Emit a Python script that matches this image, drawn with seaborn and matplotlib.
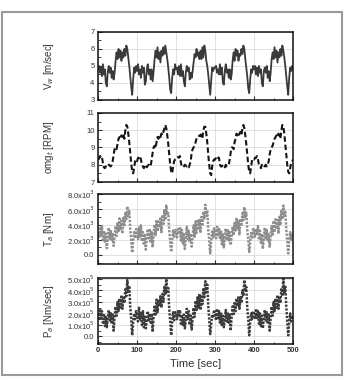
"""
Four stacked time series: wind speed, rotor speed, torque and power.
"""

import numpy as np
import matplotlib
matplotlib.use("Agg")
import matplotlib.pyplot as plt
import seaborn as sns
from matplotlib.patches import Rectangle
from matplotlib.ticker import AutoMinorLocator, FuncFormatter, MultipleLocator

# time axis [sec], one sample every 2.5 s
time = np.arange(0, 500.1, 2.5)

# wind speed [m/sec]
wind_speed = [
    4.8, 5.0, 4.6, 4.9, 4.4, 5.1, 4.5, 4.8, 4.0, 3.8, 4.7, 5.0, 4.6, 4.9, 4.3, 4.7, 4.2, 4.6, 5.3, 5.8,
    5.4, 6.0, 5.5, 5.9, 5.3, 5.8, 5.5, 6.0, 5.6, 6.2, 6.0, 5.5, 5.0, 4.4, 3.8, 3.3, 4.2, 4.9, 4.6, 5.0,
    4.7, 5.1, 4.5, 4.8, 4.3, 5.0, 4.6, 4.9, 3.9, 4.1, 4.8, 5.1, 4.5, 4.8, 4.2, 4.8, 4.1, 4.7, 5.4, 5.9,
    5.5, 6.1, 5.4, 5.8, 5.2, 5.9, 5.6, 6.1, 5.7, 6.2, 5.8, 5.4, 4.9, 4.3, 3.6, 3.4, 4.3, 4.8, 4.5, 5.1,
    4.8, 4.9, 4.5, 5.0, 4.4, 5.1, 4.4, 4.7, 4.1, 3.8, 4.6, 5.0, 4.7, 4.9, 4.2, 4.6, 4.3, 4.7, 5.2, 5.7,
    5.5, 6.0, 5.6, 5.8, 5.4, 5.9, 5.4, 6.1, 5.5, 6.2, 5.9, 5.3, 5.0, 4.5, 3.9, 3.3, 4.1, 4.9, 4.7, 4.9,
    4.9, 5.0, 4.6, 4.8, 4.5, 5.1, 4.5, 4.9, 4.0, 3.9, 4.7, 5.1, 4.6, 4.8, 4.3, 4.8, 4.2, 4.5, 5.3, 5.8,
    5.3, 6.0, 5.6, 5.9, 5.3, 5.7, 5.6, 6.0, 5.7, 6.2, 6.0, 5.4, 4.9, 4.4, 3.7, 3.4, 4.2, 4.8, 4.6, 5.0,
    4.8, 5.0, 4.5, 4.9, 4.4, 5.0, 4.6, 4.8, 4.0, 3.8, 4.7, 4.9, 4.6, 5.0, 4.3, 4.7, 4.1, 4.6, 5.4, 5.8,
    5.4, 6.1, 5.5, 5.9, 5.2, 5.8, 5.5, 6.0, 5.6, 6.2, 5.9, 5.5, 5.0, 4.4, 3.8, 3.3, 4.3, 4.9, 4.7, 5.0,
    4.8,
]

# rotor speed [RPM]
rotor_speed = [
    8.3, 8.35, 8.5, 8.4, 8.45, 8.1, 7.85, 7.8, 7.9, 7.95, 7.9, 8.0, 7.95, 7.9, 8.0, 8.2, 8.6, 8.9, 9.0, 8.9,
    9.2, 9.5, 9.6, 9.5, 9.7, 9.6, 9.8, 9.5, 10.0, 10.3, 10.2, 9.8, 9.3, 8.7, 8.1, 7.6, 7.5, 7.8, 8.2, 8.3,
    8.2, 8.4, 8.4, 8.5, 8.3, 8.0, 7.9, 7.8, 7.95, 8.0, 7.85, 7.95, 8.0, 7.9, 7.95, 8.3, 8.7, 9.0, 9.1, 8.95,
    9.3, 9.6, 9.5, 9.7, 9.6, 9.8, 9.7, 9.9, 10.1, 10.3, 10.1, 9.7, 9.2, 8.6, 8.0, 7.6, 7.5, 7.9, 8.2, 8.3,
    8.3, 8.4, 8.45, 8.4, 8.5, 8.1, 7.9, 7.85, 7.9, 8.0, 7.95, 7.9, 7.95, 7.85, 8.0, 8.2, 8.7, 8.9, 9.0, 9.1,
    9.3, 9.5, 9.6, 9.6, 9.7, 9.65, 9.8, 9.6, 10.0, 10.2, 10.2, 9.8, 9.3, 8.6, 8.0, 7.5, 7.4, 7.9, 8.2, 8.3,
    8.3, 8.4, 8.5, 8.4, 8.4, 8.0, 7.9, 7.9, 8.0, 7.95, 7.85, 8.0, 7.9, 7.95, 8.0, 8.3, 8.7, 9.0, 9.0, 8.9,
    9.3, 9.5, 9.8, 9.7, 9.6, 9.8, 9.9, 9.7, 10.1, 10.3, 10.1, 9.7, 9.2, 8.6, 8.0, 7.6, 7.5, 7.9, 8.3, 8.35,
    8.3, 8.4, 8.4, 8.5, 8.3, 8.0, 7.9, 7.8, 8.0, 7.9, 7.95, 7.9, 8.0, 7.9, 8.0, 8.2, 8.6, 8.9, 9.0, 9.1,
    9.3, 9.5, 9.6, 9.7, 9.6, 9.8, 9.7, 9.5, 10.0, 10.3, 10.2, 9.8, 9.2, 8.6, 8.0, 7.6, 7.5, 7.8, 8.1, 8.2,
    8.3,
]

# aerodynamic torque [x10^3 Nm]
torque_k = [
    3.0, 2.2, 3.5, 2.6, 3.8, 2.0, 3.2, 1.6, 2.8, 0.9, 2.4, 3.6, 2.0, 3.3, 1.8, 2.9, 1.2, 2.6, 3.8, 2.5,
    4.3, 3.0, 4.8, 3.4, 4.5, 2.8, 4.9, 3.9, 5.6, 4.7, 6.4, 5.2, 5.8, 3.5, 2.0, 0.3, 1.8, 3.0, 2.2, 3.4,
    2.8, 2.1, 3.6, 2.4, 3.9, 1.8, 3.0, 1.3, 2.6, 0.7, 2.5, 3.4, 2.2, 3.5, 1.6, 3.0, 1.0, 2.7, 4.0, 2.6,
    4.6, 3.1, 4.4, 3.6, 4.8, 3.0, 5.1, 4.1, 5.9, 4.6, 6.5, 5.3, 5.5, 3.2, 1.7, 0.4, 2.0, 3.2, 2.4, 3.3,
    3.1, 2.3, 3.4, 2.7, 3.7, 1.9, 3.3, 1.5, 2.9, 0.8, 2.3, 3.7, 2.1, 3.2, 1.7, 2.8, 1.1, 2.5, 3.9, 2.4,
    4.4, 2.9, 4.7, 3.5, 4.6, 2.9, 5.0, 4.0, 5.7, 4.8, 6.6, 5.1, 5.9, 3.4, 1.9, 0.2, 1.9, 3.1, 2.3, 3.5,
    2.9, 2.2, 3.7, 2.5, 3.6, 2.1, 3.1, 1.4, 2.7, 1.0, 2.6, 3.5, 1.9, 3.4, 1.9, 3.0, 1.3, 2.4, 3.7, 2.6,
    4.2, 3.2, 4.9, 3.3, 4.4, 2.7, 4.8, 3.8, 5.5, 4.6, 6.3, 5.0, 5.6, 3.3, 2.1, 0.4, 1.7, 2.9, 2.1, 3.4,
    3.0, 2.4, 3.5, 2.6, 3.8, 2.0, 3.2, 1.6, 2.8, 0.8, 2.4, 3.6, 2.0, 3.3, 1.8, 2.9, 1.1, 2.6, 3.8, 2.5,
    4.5, 3.0, 4.7, 3.4, 4.6, 2.8, 5.0, 3.9, 5.8, 4.7, 6.5, 5.2, 5.7, 3.4, 1.9, 0.2, 1.8, 3.0, 2.0, 2.6,
    2.2,
]

# aerodynamic power [x10^5 Nm/sec]
power_e5 = [
    2.0, 1.4, 2.4, 1.6, 2.2, 1.2, 2.0, 0.9, 1.8, 0.8, 1.5, 2.3, 1.4, 2.1, 1.1, 1.9, 0.5, 1.7, 2.6, 1.8,
    3.0, 2.2, 3.3, 2.5, 3.6, 2.4, 3.5, 2.9, 4.1, 3.5, 4.9, 3.8, 4.4, 2.6, 1.5, 0.1, 1.2, 2.0, 1.5, 2.2,
    1.9, 1.3, 2.5, 1.5, 2.1, 1.0, 2.2, 0.8, 1.7, 0.7, 1.6, 2.2, 1.3, 2.0, 1.2, 2.0, 0.4, 1.8, 2.7, 1.9,
    3.2, 2.1, 3.2, 2.6, 3.5, 2.5, 3.7, 3.0, 4.3, 3.6, 5.0, 3.9, 4.2, 2.4, 1.3, 0.1, 1.3, 2.1, 1.4, 2.1,
    2.1, 1.5, 2.3, 1.7, 2.3, 1.1, 1.9, 1.0, 1.9, 0.7, 1.4, 2.4, 1.5, 2.2, 1.0, 1.8, 0.6, 1.6, 2.5, 1.7,
    3.1, 2.3, 3.4, 2.4, 3.7, 2.3, 3.6, 2.8, 4.2, 3.4, 4.8, 3.7, 4.5, 2.7, 1.4, 0.2, 1.1, 1.9, 1.6, 2.3,
    2.0, 1.4, 2.4, 1.6, 2.2, 1.2, 2.1, 0.9, 1.8, 0.8, 1.6, 2.3, 1.3, 2.1, 1.2, 1.9, 0.5, 1.7, 2.6, 1.8,
    2.9, 2.2, 3.3, 2.6, 3.5, 2.4, 3.4, 2.9, 4.0, 3.5, 4.9, 3.9, 4.3, 2.5, 1.5, 0.1, 1.2, 2.0, 1.5, 2.2,
    1.9, 1.5, 2.4, 1.6, 2.2, 1.1, 2.0, 0.9, 1.8, 0.7, 1.5, 2.3, 1.4, 2.1, 1.1, 1.9, 0.5, 1.7, 2.6, 1.8,
    3.0, 2.2, 3.3, 2.5, 3.6, 2.4, 3.5, 2.9, 4.2, 3.5, 5.0, 3.8, 4.4, 2.6, 1.4, 0.1, 1.2, 2.0, 1.3, 1.8,
    1.6,
]

torque = np.array(torque_k) * 1e3
power = np.array(power_e5) * 1e5


def sci_fmt(exp):
    def fmt(v, _):
        if abs(v) < 1e-9:
            return "0.0"
        return f"{v / 10**exp:.1f}x10$^{exp}$"
    return FuncFormatter(fmt)


sns.set_style("ticks")
plt.rcParams["font.family"] = ["Liberation Sans", "DejaVu Sans"]

fig = plt.figure(figsize=(3.44, 3.80), dpi=100)

left, width = 0.285, 0.567
boxes = [
    (0.737, 0.179),
    (0.521, 0.182),
    (0.305, 0.184),
    (0.095, 0.174),
]
axes = [fig.add_axes([left, b, width, h]) for b, h in boxes]

panels = [
    (wind_speed, "#3a3a3a", "-", 1.3, "V$_w$ [m/sec]", (3, 7), 1, None),
    (rotor_speed, "#151515", (0, (2.6, 1.4)), 1.5, "omg$_t$ [RPM]", (7, 11), 1, None),
    (torque, "#8e8e8e", (0, (0.9, 0.6)), 1.8, "T$_a$ [Nm]", (-1200, 8000), 2000, 3),
    (power, "#3c3c3c", (0, (0.9, 0.6)), 1.8, "P$_a$ [Nm/sec]", (-0.65e5, 5.1e5), 1e5, 5),
]

for ax, (vals, color, ls, lw, label, ylim, step, exp) in zip(axes, panels):
    sns.lineplot(x=time, y=vals, ax=ax, color=color, linestyle=ls, lw=lw)
    ax.set_xlim(0, 500)
    ax.set_ylim(*ylim)
    ax.xaxis.set_major_locator(MultipleLocator(100))
    ax.xaxis.set_minor_locator(AutoMinorLocator(2))
    ax.yaxis.set_major_locator(MultipleLocator(step))
    ax.yaxis.set_minor_locator(AutoMinorLocator(2))
    if exp is not None:
        ax.yaxis.set_major_formatter(sci_fmt(exp))
    ax.grid(True, which="major", color="#dcdcdc", lw=0.6)
    ax.set_axisbelow(True)
    ax.tick_params(which="major", direction="in", length=3, width=0.8,
                   labelsize=5.5, pad=2.5, colors="#333333")
    ax.tick_params(which="minor", direction="in", length=1.8, width=0.6)
    for sp in ax.spines.values():
        sp.set_linewidth(1.1)
        sp.set_color("#111111")
    ax.set_ylabel(label, fontsize=7, color="#333333")
    ax.yaxis.set_label_coords(-0.215, 0.5)
    ax.set_xlabel("")
    if ax is not axes[-1]:
        ax.set_xticklabels([])

axes[-1].tick_params(axis="x", labelsize=5.5)
for t in axes[-1].get_xticklabels():
    t.set_fontweight("bold")
axes[-1].set_xlabel("Time [sec]", fontsize=8, color="#333333", labelpad=3)

fig.add_artist(Rectangle((0.006, 0.012), 0.988, 0.956, transform=fig.transFigure,
                         fill=False, ec="#9a9a9a", lw=1.5))

fig.savefig("out.png", dpi=100)
